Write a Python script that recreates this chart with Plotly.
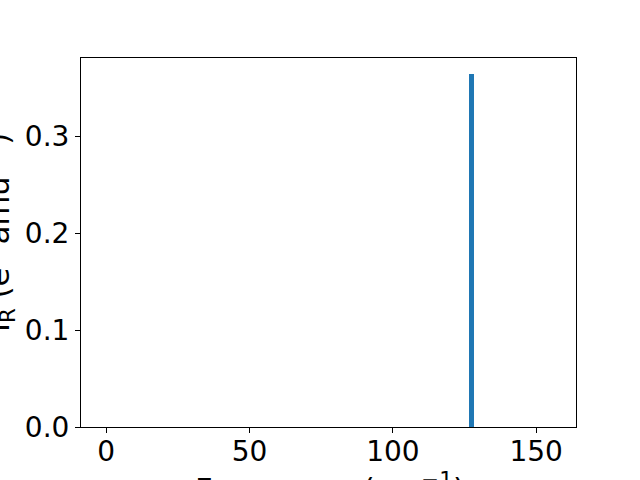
import plotly.graph_objects as go

frequencies = [127.5]
intensities = [0.3637]
bar_widths = [1.6]
x_ticks = [0, 50, 100, 150]
y_ticks = [0.0, 0.1, 0.2, 0.3]

font_family = "DejaVu Sans"
fs = 28
lfs = 30.6

fig = go.Figure()
fig.add_trace(go.Bar(x=frequencies, y=intensities, width=bar_widths,
                     marker=dict(color="#1f77b4", line=dict(width=0))))

L, R, T, B = 81, 64, 58, 53
W, H = 640, 480
pw, ph = W - L - R, H - T - B

def px_x(p):
    return (p - L) / pw

def px_y(p):
    return (H - B - p) / ph

fig.update_layout(
    width=W, height=H,
    margin=dict(l=L, r=R, t=T, b=B, autoexpand=False),
    plot_bgcolor="white", paper_bgcolor="white",
    font=dict(family=font_family, size=fs, color="black"),
    showlegend=False,
    bargap=0,
)
fig.update_xaxes(range=[-8.8, 163.9], tickvals=x_ticks, ticks="outside", ticklen=5,
                 tickwidth=1, tickcolor="black", showline=True, linecolor="black",
                 linewidth=1, mirror=True, showgrid=False, zeroline=False,
                 tickfont=dict(size=fs), automargin=False, ticklabelstandoff=-6)
fig.update_yaxes(range=[0, 0.3805], tickvals=y_ticks, tickformat=".1f", ticks="outside",
                 ticklen=5, tickwidth=1, tickcolor="black", showline=True,
                 linecolor="black", linewidth=1, mirror=True, showgrid=False,
                 zeroline=False, tickfont=dict(size=fs), automargin=False)

fig.add_annotation(text="Frequency (cm<sup>−1</sup>)", xref="paper", yref="paper",
                   x=px_x(330), y=px_y(465), xanchor="center", yanchor="top",
                   showarrow=False, font=dict(size=lfs))
fig.add_annotation(text="I<sub>R</sub> (e<sup>2</sup> amu<sup>−1</sup>)", xref="paper",
                   yref="paper", x=px_x(22), y=px_y(233), xanchor="right", yanchor="middle",
                   textangle=-90, showarrow=False, font=dict(size=lfs))

fig.write_html("out.html", config={"displayModeBar": False},
               post_script="document.body.style.margin='0';document.body.style.overflow='hidden';")
